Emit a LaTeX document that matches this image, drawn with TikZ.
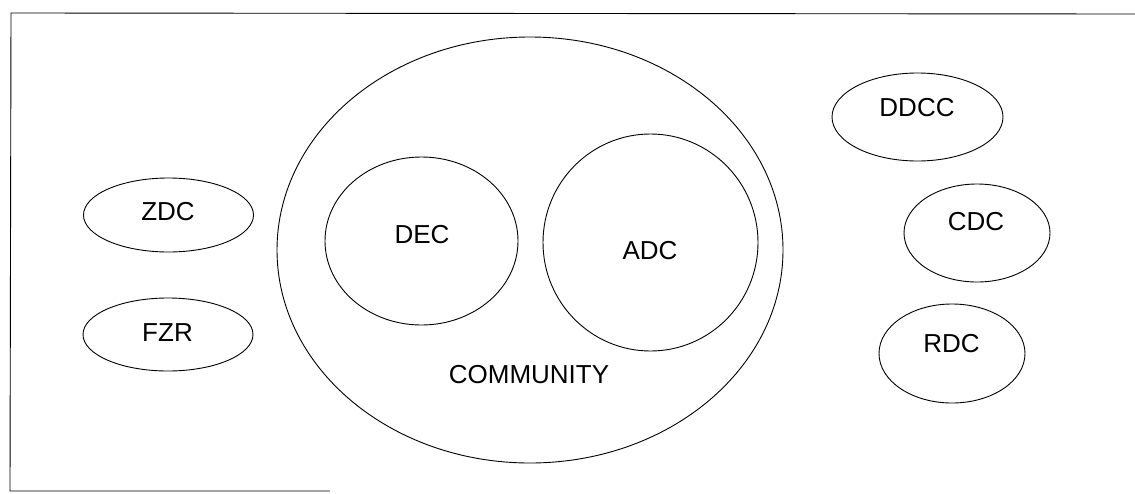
\documentclass[tikz,border=0pt]{standalone}
\usepackage{fontspec}
\setmainfont{Liberation Sans}
\usetikzlibrary{shapes.geometric}
\begin{document}
\begin{tikzpicture}[x=1pt,y=-1pt,
  region/.style={draw=black,line width=0.9pt,ellipse,inner sep=0pt},
  tag/.style={inner sep=0pt,anchor=center,font=\fontsize{26}{30}\selectfont}]
\useasboundingbox (0,0) rectangle (1135,493);

% open frame: top, left and a short bottom edge
\coordinate (tr) at (1135,14);
\coordinate (tl) at (11,13);
\coordinate (bl) at (10,491);
\coordinate (br) at (330,491);
\draw[line width=0.9pt] (tr) -- (tl) -- (bl) -- (br);

% community with its two inner groups
\node[region,minimum width=506pt,minimum height=426pt] (community) at (530,250) {};
\node[region,minimum width=193pt,minimum height=168pt] (dec) at (421.5,241) {};
\node[region,minimum width=215pt,minimum height=217pt] (adc) at (650.5,242.5) {};
\node[tag] (communitylbl) at (529,375) {COMMUNITY};
\node[tag] (declbl) at (422,235) {DEC};
\node[tag] (adclbl) at (650,251) {ADC};

% left-hand bodies
\node[region,minimum width=170pt,minimum height=74pt] (zdc) at (168.5,215) {};
\node[region,minimum width=170pt,minimum height=73pt] (fzr) at (168,334.5) {};
\node[tag] (zdclbl) at (168,212) {ZDC};
\node[tag] (fzrlbl) at (167.5,333) {FZR};

% right-hand bodies
\node[region,minimum width=171pt,minimum height=88pt] (ddcc) at (917.5,117) {};
\node[region,minimum width=146pt,minimum height=98pt] (cdc) at (977,233) {};
\node[region,minimum width=146pt,minimum height=99pt] (rdc) at (952,353.5) {};
\node[tag] (ddcclbl) at (917,108) {DDCC};
\node[tag] (cdclbl) at (976,222) {CDC};
\node[tag] (rdclbl) at (951.5,344) {RDC};
\end{tikzpicture}
\end{document}
